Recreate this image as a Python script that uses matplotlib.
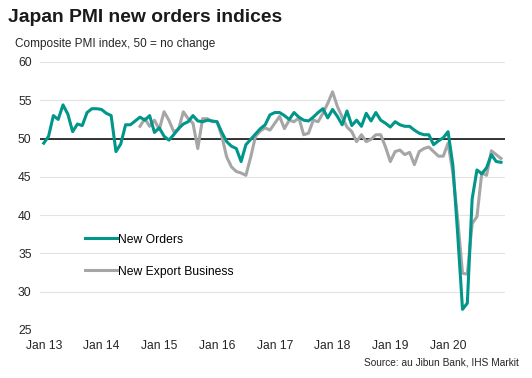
import numpy as np
import matplotlib
matplotlib.use("Agg")
import matplotlib.pyplot as plt

plt.rcParams['font.family'] = ['Liberation Sans', 'DejaVu Sans']

new_orders = [49.4, 50.3, 53.0, 52.5, 54.4, 53.2, 50.9, 51.9, 51.7, 53.4, 53.9, 53.9,
              53.8, 53.3, 53.0, 48.3, 49.3, 51.8, 51.8, 52.3, 52.8, 52.4, 53.0, 50.8,
              51.4, 50.3, 49.8, 50.5, 51.3, 51.9, 52.2, 53.0, 52.3, 52.2, 52.4, 52.3,
              52.2, 50.8, 49.6, 49.0, 48.7, 47.0, 49.2, 49.9, 50.6, 51.3, 51.8, 53.1,
              53.4, 53.4, 53.0, 52.5, 53.4, 52.8, 52.4, 52.3, 52.8, 53.4, 53.9, 52.7,
              53.8, 52.9, 51.8, 53.6, 51.7, 52.4, 51.6, 53.3, 52.3, 53.4, 52.4, 52.0,
              51.5, 52.2, 51.8, 51.6, 51.6, 51.1, 50.7, 50.5, 50.5, 49.2, 49.7, 50.1,
              50.9, 46.5, 37.5, 27.7, 28.5, 42.1, 45.9, 45.4, 46.2, 47.9, 47.0, 46.9]

new_export = [np.nan] * 20 + [
              51.6, 52.6, 51.6, 52.4,
              51.2, 53.5, 52.4, 50.9, 51.2, 53.5, 52.6, 52.0, 48.7, 52.6, 52.6, 52.2,
              52.2, 50.3, 47.6, 46.3, 45.7, 45.5, 45.2, 47.6, 50.3, 51.0, 51.4, 51.1,
              52.0, 52.9, 51.3, 52.4, 52.2, 52.7, 50.5, 50.7, 52.4, 52.2, 53.3, 54.6,
              56.1, 54.2, 52.8, 51.5, 50.9, 49.6, 50.5, 49.6, 49.9, 50.5, 50.5, 48.9,
              47.0, 48.3, 48.5, 47.9, 48.2, 46.6, 48.3, 48.7, 48.9, 48.3, 47.7, 47.7,
              49.4, 45.5, 39.5, 32.4, 32.3, 38.9, 39.8, 45.5, 45.2, 48.4, 47.9, 47.4]

tick_labels = ["Jan 13", "Jan 14", "Jan 15", "Jan 16", "Jan 17", "Jan 18", "Jan 19", "Jan 20"]
y_ticks = [25, 30, 35, 40, 45, 50, 55, 60]

TEAL = "#00968a"
GREY = "#a6a6a6"

fig = plt.figure(figsize=(5.32, 3.78), dpi=100)
ax = fig.add_axes([0.075, 0.127, 0.874, 0.709])

x = np.arange(len(new_orders))
ax.plot(x, new_export, color=GREY, lw=2.2, label="New Export Business", zorder=3)
ax.plot(x, new_orders, color=TEAL, lw=2.2, label="New Orders", zorder=4)
ax.axhline(50, color="black", lw=1.1, zorder=2)

ax.set_xlim(-0.8, 95.8)
ax.set_ylim(25, 60)
ax.set_yticks(y_ticks)
ax.set_xticks(np.arange(0, 96, 12))
ax.set_xticklabels(tick_labels)
ax.grid(axis='y', color="#e3e3e3", lw=0.8, zorder=0)
ax.set_axisbelow(True)
for s in ax.spines.values():
    s.set_visible(False)
ax.tick_params(axis='both', length=0, labelsize=8.7, colors="#262626")
ax.tick_params(axis='y', pad=6)
ax.tick_params(axis='x', pad=7)

h, l = ax.get_legend_handles_labels()
ax.legend([h[1], h[0]], [l[1], l[0]], loc="upper left", bbox_to_anchor=(0.074, 0.40),
          frameon=False, fontsize=8.7, handlelength=2.6, handletextpad=0.1,
          labelspacing=1.65)

fig.text(0.015, 0.955, "Japan PMI new orders indices", fontsize=13.9, fontweight="bold",
         color="#1a1a1a", va="center", ha="left")
fig.text(0.028, 0.884, "Composite PMI index, 50 = no change", fontsize=8.5,
         color="#262626", va="center", ha="left")
fig.text(0.976, 0.042, "Source: au Jibun Bank, IHS Markit", fontsize=7.3,
         color="#262626", va="center", ha="right")

fig.savefig("out.png", dpi=100)
